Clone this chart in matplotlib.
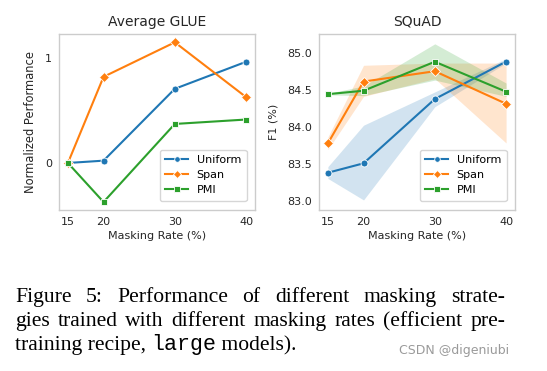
import matplotlib
matplotlib.use("Agg")
import matplotlib.pyplot as plt

rates = [15, 20, 30, 40]
series_names = ["Uniform", "Span", "PMI"]

glue_uniform = [0.0, 0.022, 0.705, 0.962]
glue_span = [0.0, 0.819, 1.147, 0.626]
glue_pmi = [0.0, -0.371, 0.371, 0.413]

squad_uniform = [83.378, 83.505, 84.374, 84.88]
squad_span = [83.776, 84.61, 84.75, 84.31]
squad_pmi = [84.44, 84.486, 84.878, 84.473]

squad_uniform_lo = [83.30, 83.01, 84.27, 84.86]
squad_uniform_hi = [83.46, 84.02, 84.47, 84.92]
squad_span_lo = [83.69, 84.41, 84.65, 83.78]
squad_span_hi = [83.86, 84.83, 84.86, 84.86]
squad_pmi_lo = [84.43, 84.42, 84.63, 84.41]
squad_pmi_hi = [84.45, 84.55, 85.12, 84.59]

glue_yticks = [0, 1]
squad_yticks = [83.0, 83.5, 84.0, 84.5, 85.0]

caption_lines = [
    "Figure 5:  Performance of different masking strate-",
    "gies trained with different masking rates (efficient pre-",
]
caption_last = ["training recipe, ", "large", " models)."]
watermark = "CSDN @digeniubi"

colors = ["#1f77b4", "#ff7f0e", "#2ca02c"]
markers = ["o", "D", "s"]
msizes = [5, 4.6, 5]

W, H = 547, 371
fig = plt.figure(figsize=(W / 100, H / 100), dpi=100)

def px_axes(x0, y0, x1, y1):
    return fig.add_axes([x0 / W, 1 - y1 / H, (x1 - x0) / W, (y1 - y0) / H])

ax1 = px_axes(59, 34, 255, 210)
ax2 = px_axes(319, 34, 515, 210)

for ax in (ax1, ax2):
    for s in ax.spines.values():
        s.set_color("#cccccc")
        s.set_linewidth(1.0)
    ax.tick_params(length=0, labelsize=8, pad=5, colors="#262626")
    ax.set_xticks(rates)
    ax.set_xlabel("Masking Rate (%)", fontsize=8, color="#262626", labelpad=3)

glue = [glue_uniform, glue_span, glue_pmi]
for name, vals, c, m, ms in zip(series_names, glue, colors, markers, msizes):
    ax1.plot(rates, vals, color=c, marker=m, markersize=ms, lw=1.5,
             markeredgecolor="white", markeredgewidth=0.6, label=name)
ax1.set_yticks(glue_yticks)
ax1.set_ylim(-0.447, 1.226)
ax1.set_xlim(13.75, 41.25)
ax1.set_title("Average GLUE", fontsize=10, color="#262626", pad=6)
ax1.set_ylabel("Normalized Performance", fontsize=8.3, color="#262626", labelpad=6)
leg1 = ax1.legend(loc="lower right", fontsize=8, frameon=True, borderpad=0.5,
                  handlelength=2.0, labelspacing=0.45, markerscale=0.8,
                  bbox_to_anchor=(0.985, 0.02))
leg1.get_frame().set_edgecolor("#cccccc")

squad = [squad_uniform, squad_span, squad_pmi]
lo = [squad_uniform_lo, squad_span_lo, squad_pmi_lo]
hi = [squad_uniform_hi, squad_span_hi, squad_pmi_hi]
for name, vals, l, h, c, m, ms in zip(series_names, squad, lo, hi, colors, markers, msizes):
    ax2.fill_between(rates, l, h, color=c, alpha=0.2, lw=0)
    ax2.plot(rates, vals, color=c, marker=m, markersize=ms, lw=1.5,
             markeredgecolor="white", markeredgewidth=0.6, label=name)
ax2.set_yticks(squad_yticks)
ax2.set_yticklabels([f"{v:.1f}" for v in squad_yticks])
ax2.set_ylim(82.874, 85.253)
ax2.set_xlim(13.75, 41.25)
ax2.set_title("SQuAD", fontsize=10, color="#262626", pad=6)
ax2.set_ylabel("F1 (%)", fontsize=8, color="#262626", labelpad=6)
leg2 = ax2.legend(loc="lower right", fontsize=8, frameon=True, borderpad=0.5,
                  handlelength=2.0, labelspacing=0.45, markerscale=0.8,
                  bbox_to_anchor=(0.985, 0.02))
leg2.get_frame().set_edgecolor("#cccccc")

# Caption
renderer = fig.canvas.get_renderer()
cap_fs = 15.6
serif = "Liberation Serif"
x_left, x_right = 15, 505
baselines = [302, 326, 350]

def justify(line, ybase):
    words = line.split()
    texts = []
    widths = []
    for w in words:
        t = fig.text(0, 1 - ybase / H, w, fontsize=cap_fs, family=serif,
                     va="baseline", ha="left")
        widths.append(t.get_window_extent(renderer).width)
        texts.append(t)
    gap = (x_right - x_left - sum(widths)) / (len(words) - 1)
    x = x_left
    for t, wd in zip(texts, widths):
        t.set_x(x / W)
        x += wd + gap

for line, yb in zip(caption_lines, baselines[:2]):
    justify(line, yb)

x = x_left
fams = [serif, "Liberation Mono", serif]
for part, fam in zip(caption_last, fams):
    t = fig.text(x / W, 1 - baselines[2] / H, part, fontsize=cap_fs, family=fam,
                 va="baseline", ha="left")
    x += t.get_window_extent(renderer).width

fig.text(509 / W, 1 - 354 / H, watermark, fontsize=9, family="DejaVu Sans",
         color="#9a9a9a", ha="right", va="baseline")

fig.savefig("out.png", dpi=100)
